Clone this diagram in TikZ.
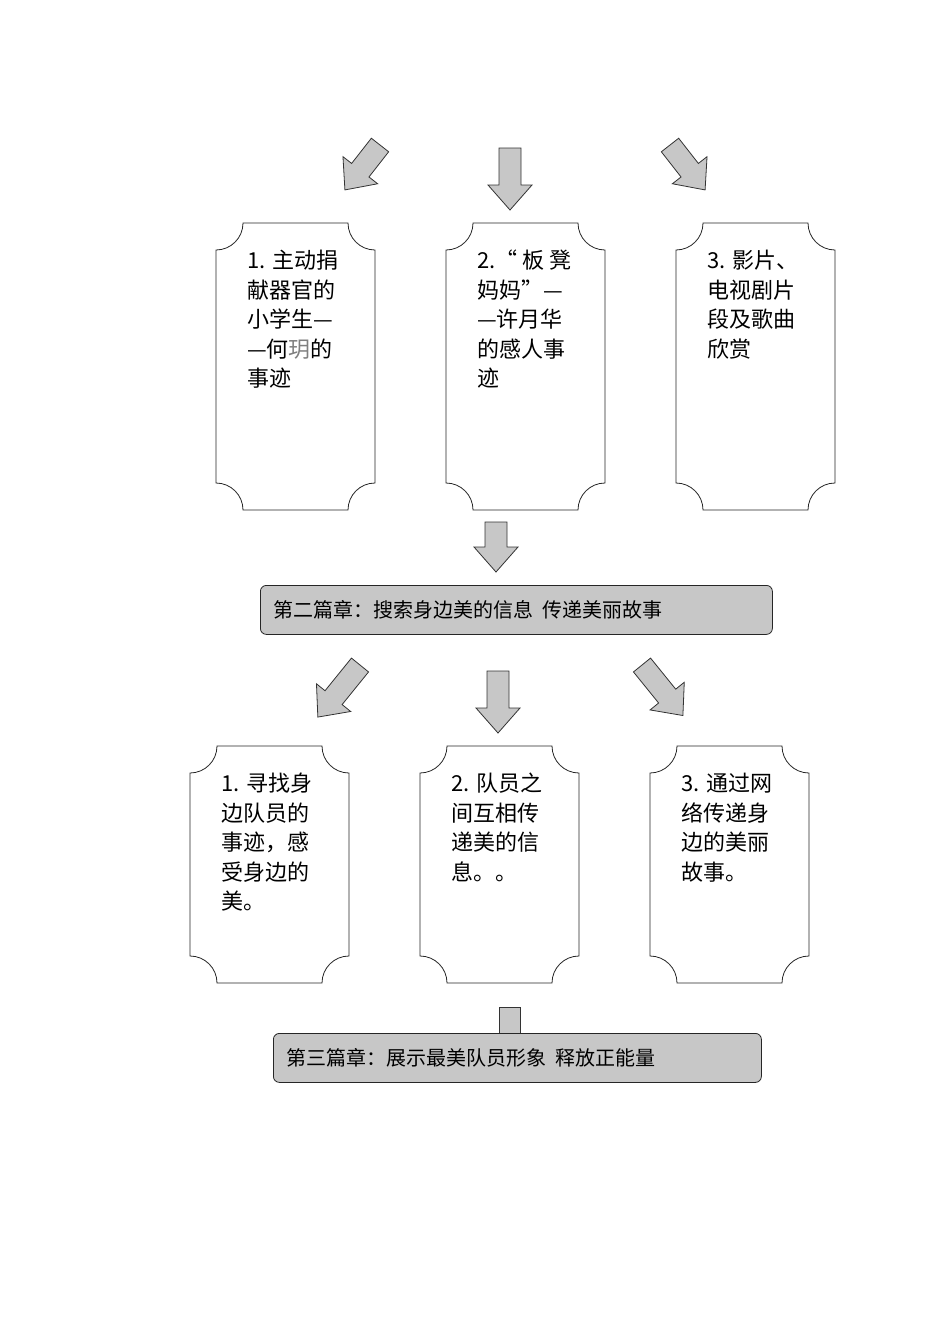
\documentclass[tikz,border=0pt]{standalone}
\usepackage{fontspec}
\setmainfont{Noto Sans CJK SC}
\usetikzlibrary{positioning}
\tikzset{
  blockarrow/.style={draw=black!80,fill=black!22,line width=0.8pt,line join=miter},
  plaque/.style={draw=black!85,fill=white,line width=0.8pt},
  boxtext/.style={anchor=north west,align=left,inner sep=0pt,font=\fontsize{22}{29.5}\selectfont},
  banner/.style={draw=black!85,fill=black!22,line width=0.8pt,rounded corners=6pt,minimum height=49pt,anchor=north west,inner sep=0pt},
  bannertext/.style={anchor=west,inner sep=0pt,font=\fontsize{20}{24}\selectfont}
}
% #1 tail, #2 angle, #3 length
\newcommand{\bigarrow}[3]{
  \draw[blockarrow,shift={(#1)},rotate=#2] (0,-11) -- (#3-25,-11) -- (#3-25,-22) -- (#3,0)
    -- (#3-25,22) -- (#3-25,11) -- (0,11) -- cycle;
}
% #1 x, #2 y (top left), #3 w, #4 h
\newcommand{\plaque}[4]{
  \draw[plaque] (#1+27,#2) -- (#1+#3-27,#2) arc[start angle=180,end angle=270,radius=27]
    -- (#1+#3,#2-#4+27) arc[start angle=90,end angle=180,radius=27]
    -- (#1+27,#2-#4) arc[start angle=0,end angle=90,radius=27]
    -- (#1,#2-27) arc[start angle=270,end angle=360,radius=27] -- cycle;
}
\begin{document}
\begin{tikzpicture}[x=1pt,y=1pt]
\useasboundingbox (0,0) rectangle (950,-1344);
% first row
\bigarrow{380,-145}{-128}{57}
\bigarrow{510,-148}{-90}{62}
\bigarrow{670,-145}{-52}{57}
\plaque{216}{-223}{159}{287}
\plaque{446}{-223}{159}{287}
\plaque{676}{-223}{159}{287}
\node[boxtext] (a1) at (247,-250) {1. 主动捐\\献器官的\\小学生—\\—何{\color{black!50}玥}的\\事迹};
\node[boxtext] (a2) at (477,-250) {2.“ 板 凳\\妈妈”—\\—许月华\\的感人事\\迹};
\node[boxtext] (a3) at (707,-250) {3. 影片、\\电视剧片\\段及歌曲\\欣赏};
\bigarrow{496,-522}{-90}{50}
\node[banner,minimum width=512pt] (b1) at (260,-585) {};
\node[bannertext] (t1) at (273,-609.5) {第二篇章：搜索身边美的信息\ \ 传递美丽故事};
% second row
\bigarrow{360,-665}{-129}{67}
\bigarrow{498,-671}{-90}{62}
\bigarrow{642,-665}{-51}{65}
\plaque{190}{-746}{159}{237}
\plaque{420}{-746}{159}{237}
\plaque{650}{-746}{159}{237}
\node[boxtext] (c1) at (221,-773) {1. 寻找身\\边队员的\\事迹，感\\受身边的\\美。};
\node[boxtext] (c2) at (451,-773) {2. 队员之\\间互相传\\递美的信\\息。。};
\node[boxtext] (c3) at (681,-773) {3. 通过网\\络传递身\\边的美丽\\故事。};
\draw[blockarrow] (499,-1007) rectangle (520,-1035);
\node[banner,minimum width=488pt] (b2) at (273,-1033) {};
\node[bannertext] (t2) at (286,-1057.5) {第三篇章：展示最美队员形象\ \ 释放正能量};
\end{tikzpicture}
\end{document}
